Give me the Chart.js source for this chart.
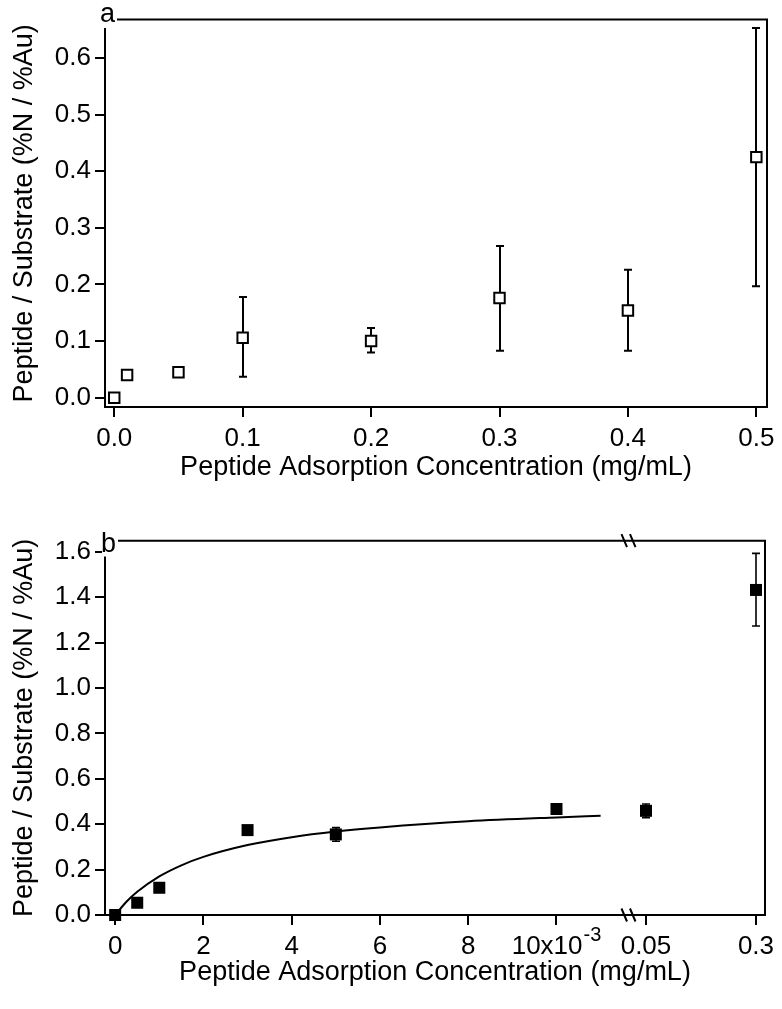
<!DOCTYPE html>
<html><head><meta charset="utf-8">
<script src="https://cdn.jsdelivr.net/npm/chart.js@4.4.1/dist/chart.umd.min.js"></script>
<style>
html,body{margin:0;padding:0;background:#fff;}
#wrap{position:relative;width:782px;height:1009px;overflow:hidden;}
canvas{position:absolute;left:0;}
#ca{top:0;} #cb{top:490px;}
</style></head><body>
<div id="wrap"><canvas id="ca" width="782" height="490"></canvas><canvas id="cb" width="782" height="519"></canvas></div>
<script>
// ---------- data: panel a ----------
const concA = [0, 0.01, 0.05, 0.1, 0.2, 0.3, 0.4, 0.5];
const ratioA = [0.000, 0.040, 0.045, 0.106, 0.100, 0.176, 0.154, 0.425];
const errLowA = [null, null, null, 0.037, 0.080, 0.083, 0.083, 0.197];
const errHighA = [null, null, null, 0.178, 0.123, 0.268, 0.226, 0.653];
const xTicksA = [0, 0.1, 0.2, 0.3, 0.4, 0.5];
const yTicksA = [0, 0.1, 0.2, 0.3, 0.4, 0.5, 0.6];

// ---------- data: panel b ----------
const concB = [0, 0.0005, 0.001, 0.003, 0.005, 0.01, 0.05, 0.3];
const ratioB = [0.000, 0.054, 0.120, 0.374, 0.355, 0.467, 0.459, 1.432];
const errLowB = [null, null, null, null, 0.325, null, 0.429, 1.273];
const errHighB = [null, null, null, null, 0.385, null, 0.489, 1.593];
const fitConcB = [0, 0.00025, 0.0005, 0.001, 0.0015, 0.002, 0.003, 0.004, 0.005, 0.006, 0.008, 0.010, 0.011];
const fitRatioB = [0, 0.057, 0.102, 0.170, 0.219, 0.256, 0.308, 0.343, 0.368, 0.386, 0.413, 0.430, 0.437];
const xTicksB = [0, 0.002, 0.004, 0.006, 0.008, 0.010, 0.05, 0.3];
const xTickLabelsB = ['0', '2', '4', '6', '8', '10x10^-3', '0.05', '0.3'];
const yTicksB = [0, 0.2, 0.4, 0.6, 0.8, 1.0, 1.2, 1.4, 1.6];

const titleX = 'Peptide Adsorption Concentration (mg/mL)';
const titleY = 'Peptide / Substrate (%N / %Au)';

// ---------- broken axis (panel b) ----------
const BROKEN_SEGMENTS = [
  { v0: -0.00023, v1: 0.01162, f0: 0, f1: 0.7924 },
  { v0: 0.00909, v1: 0.3205, f0: 0.7924, f1: 1 }
];
const BROKEN_SPLIT = 0.03;

const FONT = '"Liberation Sans", Arial, Helvetica, sans-serif';
const TICK_SIZE = 26;
const TITLE_SIZE = 27;
Chart.defaults.font.family = FONT;
Chart.defaults.color = '#000';

const LinearBase = Chart.LinearScale || Chart.registry.getScale('linear');
class BrokenScale extends LinearBase {
  getPixelForValue(value) {
    const s = value < BROKEN_SPLIT ? BROKEN_SEGMENTS[0] : BROKEN_SEGMENTS[1];
    const f = s.f0 + (value - s.v0) / (s.v1 - s.v0) * (s.f1 - s.f0);
    return this.left + f * this.width;
  }
  getValueForPixel(pixel) {
    const f = (pixel - this.left) / this.width;
    const s = f < BROKEN_SEGMENTS[0].f1 ? BROKEN_SEGMENTS[0] : BROKEN_SEGMENTS[1];
    return s.v0 + (f - s.f0) / (s.f1 - s.f0) * (s.v1 - s.v0);
  }
}
BrokenScale.id = 'broken';
BrokenScale.defaults = LinearBase.defaults;
Chart.register(BrokenScale);

// ---------- plugins ----------
const errorBars = {
  id: 'errorBars',
  beforeDatasetsDraw(chart, args, o) {
    const ctx = chart.ctx, xs = chart.scales.x, ys = chart.scales.y;
    chart.data.datasets.forEach(ds => {
      if (!ds.errLow) return;
      ds.data.forEach((pt, i) => {
        const lo = ds.errLow[i], hi = ds.errHigh[i];
        if (lo == null || hi == null) return;
        const x = Math.round(xs.getPixelForValue(pt.x));
        const y1 = ys.getPixelForValue(lo), y2 = ys.getPixelForValue(hi);
        const cw = o.capWidth || 8;
        ctx.save();
        ctx.strokeStyle = '#000';
        ctx.lineWidth = o.lineWidth || 2;
        ctx.beginPath();
        ctx.moveTo(x, y1); ctx.lineTo(x, y2);
        ctx.moveTo(x - cw / 2, y1); ctx.lineTo(x + cw / 2, y1);
        ctx.moveTo(x - cw / 2, y2); ctx.lineTo(x + cw / 2, y2);
        ctx.stroke();
        ctx.restore();
      });
    });
  }
};

const frame = {
  id: 'frame',
  afterDraw(chart, args, o) {
    const ctx = chart.ctx, a = chart.chartArea;
    ctx.save();
    ctx.strokeStyle = '#000';
    ctx.lineWidth = 2;
    ctx.beginPath();
    ctx.moveTo(o.lineStart, a.top); ctx.lineTo(a.right, a.top); ctx.lineTo(a.right, a.bottom);
    ctx.stroke();
    // white label box over the corner
    ctx.fillStyle = '#fff';
    ctx.fillRect(o.box[0], o.box[1], o.box[2], o.box[3]);
    ctx.fillStyle = '#000';
    ctx.font = TITLE_SIZE + 'px ' + FONT;
    ctx.textAlign = 'left';
    ctx.textBaseline = 'alphabetic';
    ctx.fillText(o.letter, o.letterX, o.letterY);
    // axis break marks
    if (o.breakFrac) {
      const bx = a.left + o.breakFrac * (a.right - a.left);
      ctx.lineWidth = 2;
      ctx.beginPath();
      [a.top, a.bottom].forEach(y => {
        ctx.moveTo(bx - 6.5, y - 6.5); ctx.lineTo(bx - 1, y + 6.5);
        ctx.moveTo(bx + 2, y - 6.5); ctx.lineTo(bx + 7.5, y + 6.5);
      });
      ctx.stroke();
    }
    ctx.restore();
  }
};

const supLabel = {
  id: 'supLabel',
  afterDraw(chart, args, o) {
    if (!o.values) return;
    const sc = chart.scales.x, ctx = chart.ctx;
    o.values.forEach((v, i) => {
      const lab = o.labels[i];
      if (lab.indexOf('^') < 0) return;
      const parts = lab.split('^');
      const px = sc.getPixelForValue(v);
      const cy = sc.top + o.offset;
      ctx.save();
      ctx.fillStyle = '#000';
      ctx.textBaseline = 'middle';
      ctx.textAlign = 'left';
      ctx.font = TICK_SIZE + 'px ' + FONT;
      const wb = ctx.measureText(parts[0]).width;
      ctx.font = '20px ' + FONT;
      const ws = ctx.measureText(parts[1]).width;
      const x0 = px - (wb + ws + 1) / 2;
      ctx.font = TICK_SIZE + 'px ' + FONT;
      ctx.fillText(parts[0], x0, cy);
      ctx.font = '20px ' + FONT;
      ctx.fillText(parts[1], x0 + wb + 1, cy - 11);
      ctx.restore();
    });
  }
};

function axisCommon() {
  return {
    grid: { drawOnChartArea: false, drawTicks: true, tickLength: 10, tickWidth: 2, lineWidth: 2, color: '#000' },
    border: { display: true, color: '#000', width: 2 }
  };
}

// ---------- chart a ----------
new Chart(document.getElementById('ca'), {
  type: 'scatter',
  data: {
    datasets: [{
      data: concA.map((x, i) => ({ x, y: ratioA[i] })),
      errLow: errLowA, errHigh: errHighA,
      pointStyle: 'rect', pointRadius: 7.4, pointBorderWidth: 2,
      backgroundColor: '#fff', borderColor: '#000', clip: false
    }]
  },
  options: {
    responsive: false, animation: false, devicePixelRatio: 1,
    layout: { padding: { top: 14, right: 15, left: 0, bottom: 0 } },
    plugins: {
      legend: { display: false }, tooltip: { enabled: false },
      errorBars: { capWidth: 8, lineWidth: 2 },
      frame: { letter: 'a', lineStart: 117, box: [102, 0, 15, 28], letterX: 100, letterY: 21.5 }
    },
    scales: {
      x: Object.assign(axisCommon(), {
        type: 'linear', min: -0.0072, max: 0.5083,
        afterBuildTicks: s => { s.ticks = xTicksA.map(v => ({ value: v })); },
        ticks: { callback: v => Number(v).toFixed(1), font: { size: TICK_SIZE }, padding: 6.4, autoSkip: false, maxRotation: 0 },
        title: { display: true, text: titleX, font: { size: TITLE_SIZE }, padding: { top: 0, bottom: 6.4 } },
        afterFit: s => { s.height = 83; }
      }),
      y: Object.assign(axisCommon(), {
        type: 'linear', min: -0.0165, max: 0.668,
        afterBuildTicks: s => { s.ticks = yTicksA.map(v => ({ value: v })); },
        ticks: { callback: v => Number(v).toFixed(1), font: { size: TICK_SIZE }, padding: 4, autoSkip: false },
        title: { display: true, text: titleY, font: { size: TITLE_SIZE }, padding: { top: 8.4, bottom: 0 } },
        afterFit: s => { s.width = 105; }
      })
    }
  },
  plugins: [errorBars, frame]
});

// ---------- chart b ----------
new Chart(document.getElementById('cb'), {
  type: 'scatter',
  data: {
    datasets: [{
      data: concB.map((x, i) => ({ x, y: ratioB[i] })),
      errLow: errLowB, errHigh: errHighB,
      pointStyle: 'rect', pointRadius: 8.5, pointBorderWidth: 0,
      backgroundColor: '#000', borderColor: '#000', clip: false
    }, {
      type: 'line',
      data: fitConcB.map((x, i) => ({ x, y: fitRatioB[i] })),
      showLine: true, pointRadius: 0, borderColor: '#000', borderWidth: 2,
      cubicInterpolationMode: 'monotone', fill: false
    }]
  },
  options: {
    responsive: false, animation: false, devicePixelRatio: 1,
    layout: { padding: { top: 50.7, right: 17, left: 0, bottom: 0 } },
    plugins: {
      legend: { display: false }, tooltip: { enabled: false },
      errorBars: { capWidth: 8, lineWidth: 1.6 },
      frame: { letter: 'b', lineStart: 118, box: [102, 36, 16, 30.5], letterX: 101, letterY: 62, breakFrac: BROKEN_SEGMENTS[0].f1 },
      supLabel: { values: xTicksB, labels: xTickLabelsB, offset: 31.5 }
    },
    scales: {
      x: Object.assign(axisCommon(), {
        type: 'broken', min: -0.00023, max: 0.3205,
        afterBuildTicks: s => { s.ticks = xTicksB.map(v => ({ value: v })); },
        ticks: {
          callback: (v, i) => (xTickLabelsB[i].indexOf('^') >= 0 ? '' : xTickLabelsB[i]),
          font: { size: TICK_SIZE }, padding: 5.9, autoSkip: false, maxRotation: 0
        },
        title: { display: true, text: titleX, font: { size: TITLE_SIZE }, padding: { top: 0, bottom: 19.8 } },
        afterFit: s => { s.height = 94; }
      }),
      y: Object.assign(axisCommon(), {
        type: 'linear', min: 0, max: 1.649,
        afterBuildTicks: s => { s.ticks = yTicksB.map(v => ({ value: v })); },
        ticks: { callback: v => Number(v).toFixed(1), font: { size: TICK_SIZE }, padding: 4, autoSkip: false },
        title: { display: true, text: titleY, font: { size: TITLE_SIZE }, padding: { top: 8.4, bottom: 0 } },
        afterFit: s => { s.width = 105; }
      })
    }
  },
  plugins: [errorBars, frame, supLabel]
});
</script>
</body></html>
